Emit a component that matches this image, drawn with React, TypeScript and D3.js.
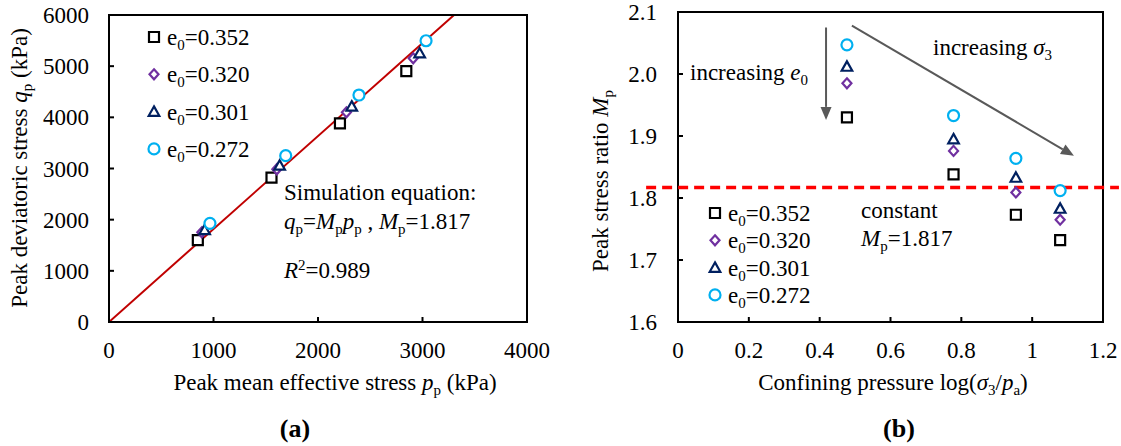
import React from 'react';
import { scaleLinear, symbol, symbolSquare, symbolCircle, line } from 'd3';

// series labels (initial void ratio)
const voidRatios = ['0.352', '0.320', '0.301', '0.272'];

// panel (a): peak mean effective stress p_p and peak deviatoric stress q_p (kPa)
const pPeak352 = [850, 1555, 2210, 2845];
const qPeak352 = [1600, 2820, 3880, 4905];
const pPeak320 = [888, 1606, 2272, 2911];
const qPeak320 = [1752, 2985, 4098, 5153];
const pPeak301 = [915, 1633, 2323, 2973];
const qPeak301 = [1800, 3060, 4215, 5255];
const pPeak272 = [966, 1691, 2392, 3034];
const qPeak272 = [1929, 3250, 4436, 5497];
const fitSlope = 1.817;

// panel (b): log(sigma3/pa) and peak stress ratio M_p
const confLog = [0.477, 0.778, 0.954, 1.079];
const ratio352 = [1.930, 1.838, 1.773, 1.732];
const ratio320 = [1.985, 1.876, 1.809, 1.765];
const ratio301 = [2.012, 1.895, 1.833, 1.783];
const ratio272 = [2.047, 1.933, 1.864, 1.812];

const ticksA_x = [0, 1000, 2000, 3000, 4000];
const ticksA_y = [0, 1000, 2000, 3000, 4000, 5000, 6000];
const ticksB_x = [0, 0.2, 0.4, 0.6, 0.8, 1, 1.2];
const ticksB_y = [1.6, 1.7, 1.8, 1.9, 2.0, 2.1];
const constLineX = [-0.09, 1.245];
const arrowE0 = [[0.418, 2.075], [0.418, 1.926]];
const arrowS3 = [[0.491, 2.078], [1.118, 1.868]];

const FONT = '"Liberation Serif", Tinos, "Times New Roman", "DejaVu Serif", serif';
const FS = 23;

const diamond = 'M0,-5L4.5,0L0,5L-4.5,0Z';
const triangle = 'M0,-5.2L5.3,4.2L-5.3,4.2Z';

const styles = [
  { d: symbol(symbolSquare, 100)() as string, color: '#000000' },
  { d: diamond, color: '#7030A0' },
  { d: triangle, color: '#002060' },
  { d: symbol(symbolCircle, 95)() as string, color: '#00B0F0' },
];

const Marker = ({ x, y, i }: { x: number; y: number; i: number }) => (
  <path d={styles[i].d} transform={`translate(${x},${y})`} fill="#fff" stroke={styles[i].color} strokeWidth={2.2} />
);

const Legend = ({ x, y, gap }: { x: number; y: number; gap: number }) => (
  <g>
    {voidRatios.map((v, i) => (
      <g key={v} transform={`translate(${x},${y + i * gap})`}>
        <Marker x={0} y={0} i={i} />
        <text x={13} y={8} fontSize={FS}>
          e<tspan fontSize={15} dy={5}>0</tspan><tspan dy={-5}>={v}</tspan>
        </text>
      </g>
    ))}
  </g>
);

const PanelA = () => {
  const x = scaleLinear().domain([0, 4000]).range([109, 527]);
  const y = scaleLinear().domain([0, 6000]).range([322, 15]);
  const ps = [pPeak352, pPeak320, pPeak301, pPeak272];
  const qs = [qPeak352, qPeak320, qPeak301, qPeak272];
  const fit = line<number>().x(p => x(p)).y(p => y(fitSlope * p))([0, 6000 / fitSlope]);
  return (
    <g>
      <clipPath id="clipA"><rect x={109} y={15} width={418} height={307} /></clipPath>
      <path d={fit as string} stroke="#C00000" strokeWidth={2} fill="none" clipPath="url(#clipA)" />
      {ps.map((arr, i) => arr.map((p, j) => <Marker key={`${i}-${j}`} x={x(p)} y={y(qs[i][j])} i={i} />))}
      <rect x={109} y={15} width={418} height={307} fill="none" stroke="#000" strokeWidth={2} />
      {ticksA_y.map(t => (
        <g key={t}>
          <line x1={109} x2={114} y1={y(t)} y2={y(t)} stroke="#000" strokeWidth={2} />
          <text x={89} y={y(t)} dy="0.35em" textAnchor="end" fontSize={FS}>{t}</text>
        </g>
      ))}
      {ticksA_x.map(t => (
        <g key={t}>
          <line x1={x(t)} x2={x(t)} y1={322} y2={317} stroke="#000" strokeWidth={2} />
          <text x={x(t)} y={358} textAnchor="middle" fontSize={FS}>{t}</text>
        </g>
      ))}
      <Legend x={154} y={37} gap={37.3} />
      <text x={284} y={200} fontSize={FS}>Simulation equation:</text>
      <text x={284} y={229} fontSize={FS}>
        <tspan fontStyle="italic">q</tspan><tspan fontSize={15} dy={5}>p</tspan>
        <tspan dy={-5}>=</tspan><tspan fontStyle="italic">M</tspan><tspan fontSize={15} dy={5}>p</tspan>
        <tspan dy={-5} fontStyle="italic">p</tspan><tspan fontSize={15} dy={5}>p</tspan>
        <tspan dy={-5}> , </tspan><tspan fontStyle="italic">M</tspan><tspan fontSize={15} dy={5}>p</tspan>
        <tspan dy={-5}>=1.817</tspan>
      </text>
      <text x={284} y={278} fontSize={FS}>
        <tspan fontStyle="italic">R</tspan><tspan fontSize={15} dy={-8}>2</tspan><tspan dy={8}>=0.989</tspan>
      </text>
      <text x={335} y={390} textAnchor="middle" fontSize={FS}>
        Peak mean effective stress <tspan fontStyle="italic">p</tspan><tspan fontSize={15} dy={5}>p</tspan>
        <tspan dy={-5}> (kPa)</tspan>
      </text>
      <text transform="translate(27,168) rotate(-90)" textAnchor="middle" fontSize={FS}>
        Peak deviatoric stress <tspan fontStyle="italic">q</tspan><tspan fontSize={15} dy={5}>p</tspan>
        <tspan dy={-5}> (kPa)</tspan>
      </text>
      <text x={295} y={437} textAnchor="middle" fontSize={26} fontWeight="bold">(a)</text>
    </g>
  );
};

const Arrow = ({ pts, x, y }: { pts: number[][]; x: any; y: any }) => {
  const x1 = x(pts[0][0]), y1 = y(pts[0][1]), x2 = x(pts[1][0]), y2 = y(pts[1][1]);
  const ang = Math.atan2(y2 - y1, x2 - x1);
  const L = 13, W = 5.5;
  const bx = x2 - L * Math.cos(ang), by = y2 - L * Math.sin(ang);
  const nx = -Math.sin(ang) * W, ny = Math.cos(ang) * W;
  return (
    <g>
      <line x1={x1} y1={y1} x2={bx} y2={by} stroke="#595959" strokeWidth={2} />
      <path d={`M${x2},${y2}L${bx + nx},${by + ny}L${bx - nx},${by - ny}Z`} fill="#595959" />
    </g>
  );
};

const PanelB = () => {
  const x = scaleLinear().domain([0, 1.2]).range([678, 1103]);
  const y = scaleLinear().domain([1.6, 2.1]).range([322, 12]);
  const rs = [ratio352, ratio320, ratio301, ratio272];
  return (
    <g>
      <rect x={678} y={12} width={425} height={310} fill="none" stroke="#000" strokeWidth={2} />
      {ticksB_y.map(t => (
        <g key={t}>
          <line x1={678} x2={683} y1={y(t)} y2={y(t)} stroke="#000" strokeWidth={2} />
          <text x={657} y={y(t)} dy="0.35em" textAnchor="end" fontSize={FS}>{t.toFixed(1)}</text>
        </g>
      ))}
      {ticksB_x.map(t => (
        <g key={t}>
          <line x1={x(t)} x2={x(t)} y1={322} y2={317} stroke="#000" strokeWidth={2} />
          <text x={x(t)} y={358} textAnchor="middle" fontSize={FS}>{t === 0 || t === 1 ? String(t) : t.toFixed(1)}</text>
        </g>
      ))}
      <line x1={x(constLineX[0])} x2={x(constLineX[1])} y1={y(fitSlope)} y2={y(fitSlope)}
        stroke="#FF0000" strokeWidth={3.5} strokeDasharray="10 6" />
      {rs.map((arr, i) => arr.map((m, j) => <Marker key={`${i}-${j}`} x={x(confLog[j])} y={y(m)} i={i} />))}
      <Arrow pts={arrowE0} x={x} y={y} />
      <Arrow pts={arrowS3} x={x} y={y} />
      <text x={690} y={80} fontSize={FS}>
        increasing <tspan fontStyle="italic">e</tspan><tspan fontSize={15} dy={5}>0</tspan>
      </text>
      <text x={933} y={55} fontSize={FS}>
        increasing <tspan fontStyle="italic">σ</tspan><tspan fontSize={15} dy={5}>3</tspan>
      </text>
      <text x={861} y={218} fontSize={FS}>constant</text>
      <text x={861} y={246} fontSize={FS}>
        <tspan fontStyle="italic">M</tspan><tspan fontSize={15} dy={5}>p</tspan><tspan dy={-5}>=1.817</tspan>
      </text>
      <Legend x={715} y={213} gap={27.3} />
      <text x={893} y={390} textAnchor="middle" fontSize={FS}>
        Confining pressure log(<tspan fontStyle="italic">σ</tspan><tspan fontSize={15} dy={5}>3</tspan>
        <tspan dy={-5}>/</tspan><tspan fontStyle="italic">p</tspan><tspan fontSize={15} dy={5}>a</tspan>
        <tspan dy={-5}>)</tspan>
      </text>
      <text transform="translate(608,181) rotate(-90)" textAnchor="middle" fontSize={FS}>
        Peak stress ratio <tspan fontStyle="italic">M</tspan><tspan fontSize={15} dy={5}>p</tspan>
      </text>
      <text x={899} y={437} textAnchor="middle" fontSize={26} fontWeight="bold">(b)</text>
    </g>
  );
};

export default function App() {
  return (
    <svg width={1121} height={446} style={{ position: 'absolute', left: 0, top: 0, background: '#fff', fontFamily: FONT }}
      fill="#000">
      <rect width={1121} height={446} fill="#fff" />
      <PanelA />
      <PanelB />
    </svg>
  );
}
